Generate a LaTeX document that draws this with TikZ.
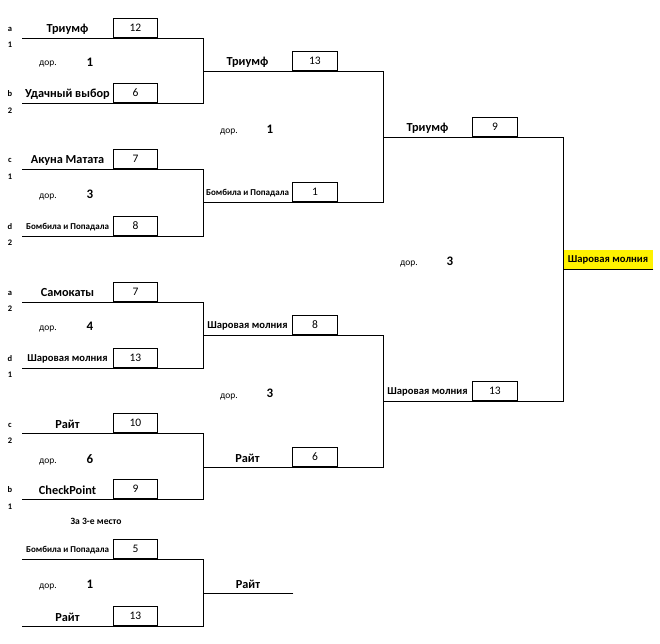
\documentclass[tikz,border=0pt]{standalone}
\usepackage{fontspec}
\setmainfont{Carlito}
\tikzset{
  ln/.style={line width=0.9pt, line cap=rect},
  scorebox/.style={draw, line width=0.9pt, minimum width=44pt, minimum height=19pt, inner sep=0pt, anchor=south west, font=\fontsize{11.5}{13}\selectfont},
  teamL/.style={font=\bfseries\fontsize{12.3}{14}\selectfont, inner sep=0pt},
  teamM/.style={font=\bfseries\fontsize{10.6}{12}\selectfont, inner sep=0pt},
  teamS/.style={font=\bfseries\fontsize{9}{10}\selectfont, inner sep=0pt},
  tag/.style={font=\bfseries\fontsize{8.5}{9}\selectfont, inner sep=0pt},
  dor/.style={font=\fontsize{9.5}{10}\selectfont, inner sep=0pt},
  mnum/.style={font=\bfseries\fontsize{13}{14}\selectfont, inner sep=0pt},
  thirdlbl/.style={font=\bfseries\fontsize{9.6}{10}\selectfont, inner sep=0pt},
}
\begin{document}
\begin{tikzpicture}[x=1pt,y=-1pt]
\useasboundingbox (0,0) rectangle (660,643);
% ---- yellow winner cell
\fill[yellow] (563,250) rectangle (653,269);
% ---- Round 1, match 1
\draw[ln] (22,38) -- (203,38) -- (203,103) -- (22,103);
\node[scorebox] (s11) at (113,38) {12};
\node[scorebox] (s12) at (113,103) {6};
\node[teamL] (t11) at (67.5,29) {Триумф};
\node[teamL] (t12) at (67.5,94) {Удачный выбор};
\node[tag] (l11a) at (10,29) {a};
\node[tag] (l11b) at (10,45) {1};
\node[tag] (l12a) at (10,94) {b};
\node[tag] (l12b) at (10,111) {2};
\node[dor] (d1) at (48,64) {дор.};
\node[mnum] (n1) at (90,62) {1};
% ---- Round 1, match 2
\draw[ln] (22,169) -- (203,169) -- (203,236) -- (22,236);
\node[scorebox] (s21) at (113,169) {7};
\node[scorebox] (s22) at (113,236) {8};
\node[teamL] (t21) at (67.5,160) {Акуна Матата};
\node[teamS] (t22) at (67.5,227) {Бомбила и Попадала};
\node[tag] (l21a) at (10,160) {c};
\node[tag] (l21b) at (10,177) {1};
\node[tag] (l22a) at (10,227) {d};
\node[tag] (l22b) at (10,243) {2};
\node[dor] (d2) at (48,197) {дор.};
\node[mnum] (n2) at (90,194) {3};
% ---- Round 1, match 3
\draw[ln] (22,302) -- (203,302) -- (203,368) -- (22,368);
\node[scorebox] (s31) at (113,302) {7};
\node[scorebox] (s32) at (113,368) {13};
\node[teamL] (t31) at (67.5,293) {Самокаты};
\node[teamM] (t32) at (67.5,359) {Шаровая молния};
\node[tag] (l31a) at (10,293) {a};
\node[tag] (l31b) at (10,309) {2};
\node[tag] (l32a) at (10,359) {d};
\node[tag] (l32b) at (10,375) {1};
\node[dor] (d3) at (48,329) {дор.};
\node[mnum] (n3) at (90,326) {4};
% ---- Round 1, match 4
\draw[ln] (22,433) -- (203,433) -- (203,499) -- (22,499);
\node[scorebox] (s41) at (113,433) {10};
\node[scorebox] (s42) at (113,499) {9};
\node[teamL] (t41) at (67.5,424) {Райт};
\node[teamL] (t42) at (67.5,490) {CheckPoint};
\node[tag] (l41a) at (10,425) {c};
\node[tag] (l41b) at (10,441) {2};
\node[tag] (l42a) at (10,490) {b};
\node[tag] (l42b) at (10,507) {1};
\node[dor] (d4) at (48,462) {дор.};
\node[mnum] (n4) at (90,459) {6};
\node[thirdlbl] (third) at (96,521) {За 3-е место};
% ---- Round 2, match 1
\draw[ln] (203,71) -- (383,71) -- (383,202) -- (203,202);
\node[scorebox, minimum width=45pt] (s51) at (292,71) {13};
\node[scorebox, minimum width=45pt] (s52) at (292,202) {1};
\node[teamL] (t51) at (247.5,62) {Триумф};
\node[teamS] (t52) at (247.5,193) {Бомбила и Попадала};
\node[dor] (d5) at (229,132) {дор.};
\node[mnum] (n5) at (270,129) {1};
% ---- Round 2, match 2
\draw[ln] (203,335) -- (383,335) -- (383,467) -- (203,467);
\node[scorebox, minimum width=45pt] (s61) at (292,335) {8};
\node[scorebox, minimum width=45pt] (s62) at (292,467) {6};
\node[teamM] (t61) at (247.5,326) {Шаровая молния};
\node[teamL] (t62) at (247.5,458) {Райт};
\node[dor] (d6) at (229,397) {дор.};
\node[mnum] (n6) at (270,393) {3};
% ---- Final
\draw[ln] (383,137) -- (563,137) -- (563,401) -- (383,401);
\draw[ln] (563,269) -- (653,269);
\node[scorebox, minimum width=45pt] (s71) at (472,137) {9};
\node[scorebox, minimum width=45pt] (s72) at (472,401) {13};
\node[teamL] (t71) at (427.5,128) {Триумф};
\node[teamM] (t72) at (427.5,392) {Шаровая молния};
\node[dor] (d7) at (409,264) {дор.};
\node[mnum] (n7) at (450,261) {3};
\node[teamM] (win) at (608,259.5) {Шаровая молния};
% ---- Third place
\draw[ln] (22,559) -- (203,559) -- (203,626) -- (22,626);
\draw[ln] (203,593) -- (293,593);
\node[scorebox] (s81) at (113,559) {5};
\node[scorebox] (s82) at (113,626) {13};
\node[teamS] (t81) at (67.5,550) {Бомбила и Попадала};
\node[teamL] (t82) at (67.5,617) {Райт};
\node[dor] (d8) at (48,587) {дор.};
\node[mnum] (n8) at (90,584) {1};
\node[teamL] (t83) at (248,584) {Райт};
\end{tikzpicture}
\end{document}
